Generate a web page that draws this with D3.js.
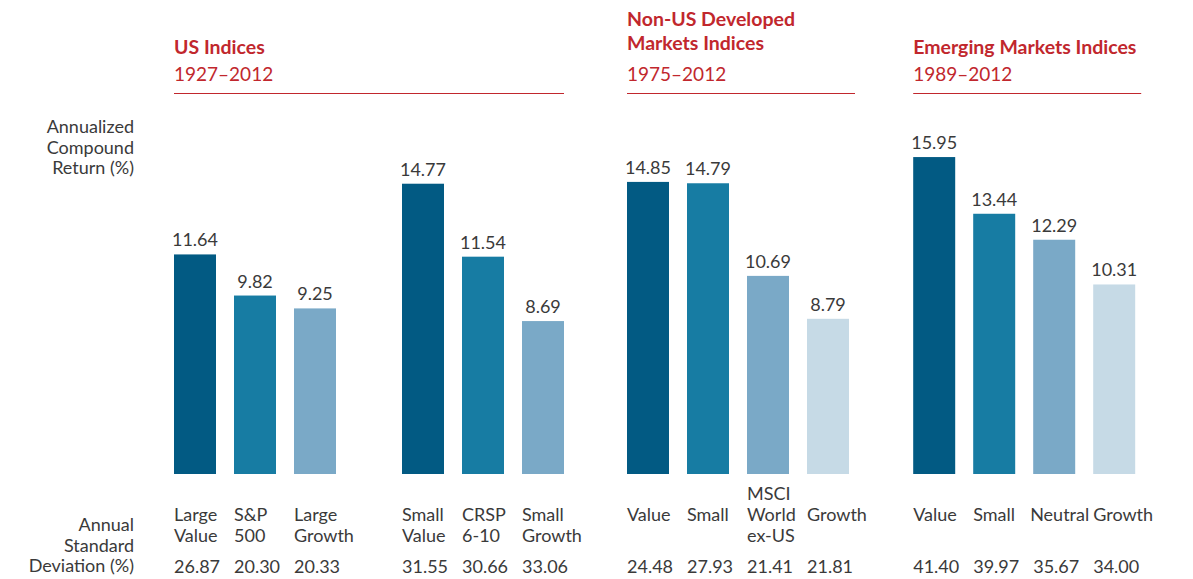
<!DOCTYPE html>
<html>
<head>
<meta charset="utf-8">
<script src="https://cdn.jsdelivr.net/npm/d3@7"></script>
<style>
  body { margin: 0; background: #fff; }
  svg text { font-family: Lato, "Open Sans", sans-serif; fill: #3a3a3a; font-weight: 400; }
  .head { fill: #c1272d; }
  .head.bold { font-weight: 700; }
</style>
</head>
<body>
<div id="chart"></div>
<script>
// bar categories, left to right
const labels = ["Large\nValue", "S&P\n500", "Large\nGrowth",
                "Small\nValue", "CRSP\n6-10", "Small\nGrowth",
                "Value", "Small", "MSCI\nWorld\nex-US", "Growth",
                "Value", "Small", "Neutral", "Growth"];
const returns = [11.64, 9.82, 9.25, 14.77, 11.54, 8.69,
                 14.85, 14.79, 10.69, 8.79,
                 15.95, 13.44, 12.29, 10.31];
const stdDevs = ["26.87", "20.30", "20.33", "31.55", "30.66", "33.06",
                 "24.48", "27.93", "21.41", "21.81",
                 "41.40", "39.97", "35.67", "34.00"];
// which cluster each bar is in, and its shade inside the cluster
const groups = [0, 0, 0, 1, 1, 1, 2, 2, 2, 2, 3, 3, 3, 3];
const shades = [0, 1, 2, 0, 1, 2, 0, 1, 2, 3, 0, 1, 2, 3];

// panel headers
const panelTitles = [["US Indices"], ["Non-US Developed", "Markets Indices"], ["Emerging Markets Indices"]];
const panelYears = ["1927–2012", "1975–2012", "1989–2012"];
const panelGroups = [[0, 1], [2], [3]];

const colors = ["#025a83", "#177ca3", "#7aa9c7", "#c6dae6"];

const W = 1193, H = 579;
const svg = d3.select("#chart").append("svg")
    .attr("width", W).attr("height", H);

const bw = 42;
// extra space (in bar steps) in front of each cluster
const gapBefore = [0, 0.8, 0.75, 0.77];
const offset = d3.cumsum(gapBefore);
const slot = i => i + offset[groups[i]];
const x = d3.scaleLinear().domain([0, 1]).range([174, 234]);
const y = d3.scaleLinear().domain([1.92, 16]).range([474, 474 - 22.59 * (16 - 1.92)]);

const data = returns.map((v, i) => ({ v, i, x: x(slot(i)) }));

// bars
svg.selectAll("rect.bar")
    .data(data)
    .enter().append("rect")
    .attr("class", "bar")
    .attr("x", d => d.x)
    .attr("y", d => y(d.v))
    .attr("width", bw)
    .attr("height", d => y.range()[0] - y(d.v))
    .attr("fill", d => colors[shades[d.i]]);

// value labels
svg.selectAll("text.val")
    .data(data)
    .enter().append("text")
    .attr("class", "val")
    .attr("x", d => d.x + bw / 2)
    .attr("y", d => y(d.v) - 8)
    .attr("text-anchor", "middle")
    .style("font-size", "18px")
    .text(d => d.v.toFixed(2));

// category labels
svg.selectAll("text.cat")
    .data(data)
    .enter().append("text")
    .attr("class", "cat")
    .style("font-size", "18px")
    .each(function (d) {
        const lines = labels[d.i].split("\n");
        const start = 521 - 21 * Math.max(lines.length - 2, 0);
        const t = d3.select(this);
        t.selectAll("tspan")
            .data(lines)
            .enter().append("tspan")
            .attr("y", (l, k) => start + k * 21)
            .text(l => l);
        // nudge a label left if it would run into its neighbour
        const next = data[d.i + 1];
        const room = next && groups[next.i] === groups[d.i] ? next.x - d.x - 4 : Infinity;
        const w = this.getComputedTextLength ? d3.max(t.selectAll("tspan").nodes(), n => n.getComputedTextLength()) : 0;
        const lx = d.x - Math.max(0, w - room);
        t.selectAll("tspan").attr("x", lx);
    });

// std dev row
svg.selectAll("text.sd")
    .data(data)
    .enter().append("text")
    .attr("class", "sd")
    .attr("x", d => d.x)
    .attr("y", 573)
    .style("font-size", "18px")
    .text(d => stdDevs[d.i]);

// left-hand row titles
function leftLabel(lines, top) {
    const t = svg.append("text")
        .attr("text-anchor", "end")
        .style("font-size", "18px");
    t.selectAll("tspan").data(lines).enter().append("tspan")
        .attr("x", 134)
        .attr("y", (l, k) => top + k * 20.5)
        .text(l => l);
}
leftLabel(["Annualized", "Compound", "Return (%)"], 133);
leftLabel(["Annual", "Standard", "Deviation (%)"], 531);

// panel headers with red rule
panelTitles.forEach((title, p) => {
    const members = data.filter(d => panelGroups[p].includes(groups[d.i]));
    const x0 = members[0].x;
    const x1 = members[members.length - 1].x + bw + (p === 0 ? 0 : 6);
    const base = title.length > 1 ? 50 : 54;
    title.forEach((line, k) => {
        svg.append("text")
            .attr("class", "head bold")
            .attr("x", x0)
            .attr("y", base - (title.length - 1 - k) * 24)
            .style("font-size", "19.5px")
            .text(line);
    });
    svg.append("text")
        .attr("class", "head")
        .attr("x", x0)
        .attr("y", 81)
        .style("font-size", "19px")
        .text(panelYears[p]);
    svg.append("line")
        .attr("x1", x0).attr("x2", x1)
        .attr("y1", 93.5).attr("y2", 93.5)
        .attr("stroke", "#c1272d")
        .attr("stroke-width", 1.2);
});
</script>
</body>
</html>
